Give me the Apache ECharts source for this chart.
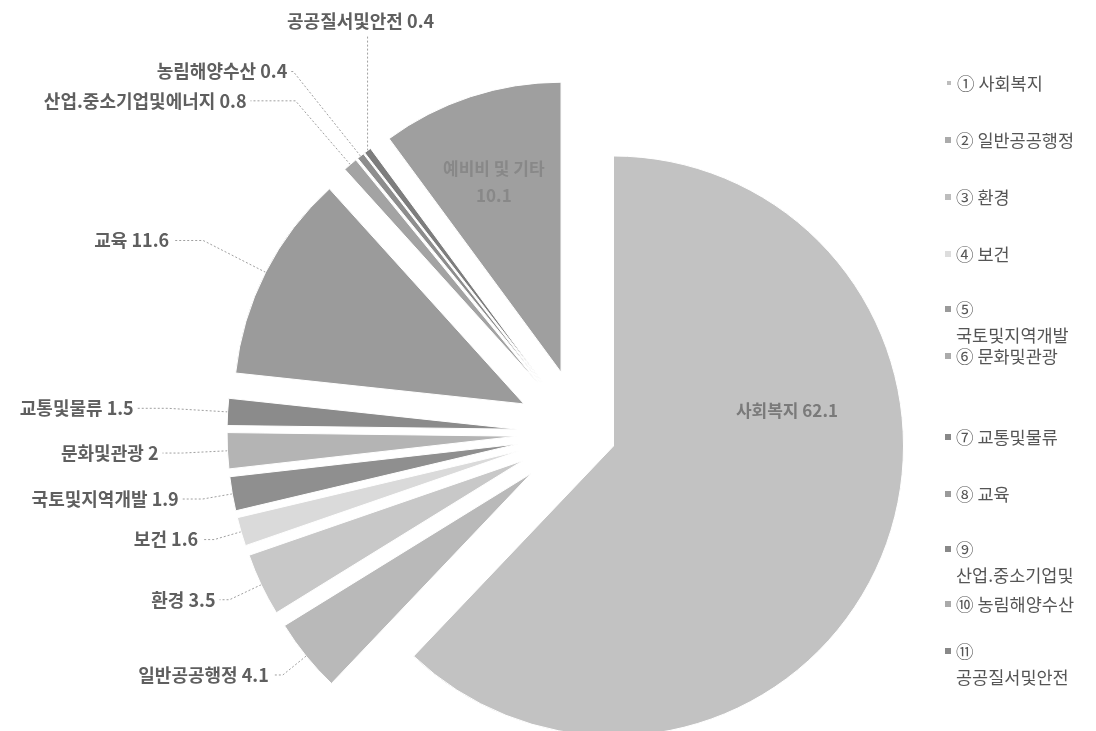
<!DOCTYPE html>
<html>
<head>
<meta charset="utf-8">
<script src="https://cdn.jsdelivr.net/npm/echarts@6/dist/echarts.min.js"></script>
<style>
html,body{margin:0;padding:0;background:#ffffff;}
#chart{width:1096px;height:731px;}
</style>
</head>
<body>
<div id="chart"></div>
<script>
// ---- data ----
const categories = ['사회복지','일반공공행정','환경','보건','국토및지역개발','문화및관광','교통및물류','교육','산업.중소기업및에너지','농림해양수산','공공질서및안전','예비비 및 기타'];
const values = [62.1, 4.1, 3.5, 1.6, 1.9, 2, 1.5, 11.6, 0.8, 0.4, 0.4, 10.1];
const legendLabels = ['① 사회복지','② 일반공공행정','③ 환경','④ 보건','⑤\n국토및지역개발','⑥ 문화및관광','⑦ 교통및물류','⑧ 교육','⑨\n산업.중소기업및','⑩ 농림해양수산','⑪\n공공질서및안전'];

// ---- styles / layout ----
const sliceColors = ['#c2c2c2','#b9b9b9','#c8c8c8','#dadada','#8f8f8f','#b4b4b4','#8b8b8b','#9b9b9b','#a3a3a3','#8d8d8d','#7d7d7d','#9f9f9f'];
const legendColors = ['#bdbdbd','#ababab','#bdbdbd','#dddddd','#9a9a9a','#ababab','#888888','#9a9a9a','#888888','#aaaaaa','#888888'];
const explodeGroup = [0,1,1,1,1,1,1,1,1,1,1,1];
const groupOffsets = [35, 64];
const lineLen  = [0, 30, 35, 28, 30, 45, 60, 70, 84, 108, 150, 0];
const lineLen2 = [0, 10, 10, 12, 20, 20, 30, 30, 45, 2, 4, 0];
const insideIdx = [0, 11];
const legendTops = [70,127,184,241,270,343,424,481,510,591,612];
const FONT = "'Noto Sans CJK KR', 'Noto Sans', sans-serif";

const chart = echarts.init(document.getElementById('chart'), null, {renderer:'canvas'});

function labelLayoutFn(p){
  // special handling: vertical leader line with centred text above it
  if (p.seriesIndex === 1 && p.dataIndex === 10 && p.labelLinePoints) {
    const pts = p.labelLinePoints;
    const a = pts[0];
    const end = pts[pts.length - 1];
    const top = [a[0], a[1] - 114];
    return {
      labelLinePoints: [a, top],
      align: 'center',
      verticalAlign: 'bottom',
      dx: top[0] - (end[0] - 4) - 7,
      dy: top[1] - 6 - end[1]
    };
  }
  if (p.seriesIndex === 0 && p.dataIndex === 0) return {dx: 36, dy: -90};
  if (p.seriesIndex === 1 && p.dataIndex === 11) return {dx: -21, dy: -50};
}

function buildSeries(g){
  return {
    type: 'pie',
    center: [581, 433],
    radius: 290,
    startAngle: 90,
    clockwise: true,
    selectedMode: 'multiple',
    selectedOffset: groupOffsets[g],
    avoidLabelOverlap: false,
    silent: true,
    animation: false,
    emphasis: {disabled: true},
    itemStyle: {borderColor: '#ffffff', borderWidth: 1},
    label: {
      position: 'outside',
      formatter: '{b} {c}',
      fontFamily: FONT,
      fontSize: 18,
      fontWeight: 'bold',
      color: '#5f5f5f',
      distanceToLabelLine: 4
    },
    labelLine: {
      show: true,
      lineStyle: {color: '#a0a0a0', width: 1, type: [2, 2]}
    },
    labelLayout: labelLayoutFn,
    data: categories.map(function(name, i){
      const on = explodeGroup[i] === g;
      const inside = insideIdx.indexOf(i) >= 0;
      const item = {
        name: name,
        value: values[i],
        selected: on,
        itemStyle: {color: on ? sliceColors[i] : 'rgba(0,0,0,0)', borderWidth: on ? 1 : 0},
        label: {show: on},
        labelLine: {show: on && !inside, length: lineLen[i], length2: lineLen2[i]}
      };
      if (inside) {
        item.label.position = 'inside';
        item.label.fontWeight = 'bold';
        item.label.fontSize = 17;
        if (i === 0) {
          item.label.formatter = '{b} {c}';
          item.label.color = '#7a7a7a';
        } else {
          item.label.formatter = '{b}\n{c}';
          item.label.color = '#888888';
          item.label.lineHeight = 27;
        }
      }
      return item;
    })
  };
}

const legendRich = {t: {fontFamily: FONT, fontSize: 17.5, color: '#555555', lineHeight: 26}};

const option = {
  backgroundColor: '#ffffff',
  animation: false,
  legend: legendTops.map(function(t, i){
    const lines = legendLabels[i].split('\n');
    const multi = lines.length > 1;
    return {
      data: [{name: categories[i], itemStyle: {color: legendColors[i]}}],
      orient: 'vertical',
      left: 945,
      top: t,
      padding: 0,
      icon: 'rect',
      itemWidth: 6,
      itemHeight: 6,
      selectedMode: false,
      formatter: function(){ return lines.map(function(s){ return '{t|' + s + '}'; }).join('\n'); },
      textStyle: {fontFamily: FONT, fontSize: 17.5, color: '#555555', lineHeight: 26, padding: multi ? [26, 0, 0, 0] : 0, rich: legendRich}
    };
  }),
  series: [buildSeries(0), buildSeries(1)]
};
chart.setOption(option);
</script>
</body>
</html>
